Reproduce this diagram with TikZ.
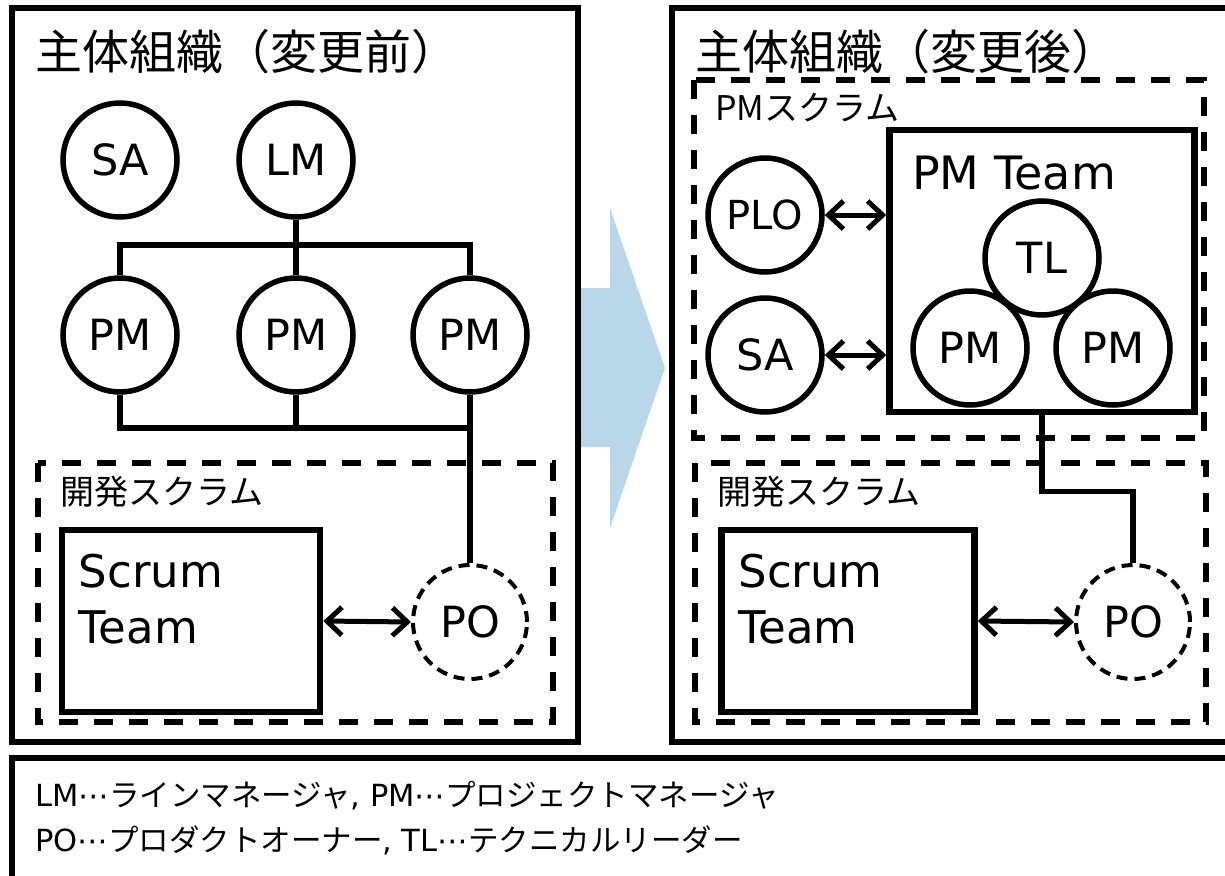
\documentclass[tikz,border=0pt]{standalone}
\usepackage{fontspec}
\setmainfont{DejaVu Sans}
\newfontfamily\jp{Noto Sans CJK JP}
\usetikzlibrary{positioning, arrows.meta, calc}

\definecolor{shiftblue}{RGB}{184,215,233}

\begin{document}
\begin{tikzpicture}[
    x=1pt, y=-1pt,
    font=\fontsize{43}{50}\selectfont,
    >={Straight Barb[length=15pt, width=28pt]},
    member/.style={
        circle, draw=black, line width=5.5pt, fill=white,
        minimum size=114pt, inner sep=0pt
    },
    proxy/.style={
        member, line width=4pt, dash pattern=on 11pt off 7pt
    },
    frame/.style={
        draw=black, line width=6.5pt
    },
    scrum/.style={
        draw=black, line width=6.5pt, dash pattern=on 19pt off 16pt
    },
    teambox/.style={
        rectangle, draw=black, line width=6.5pt, fill=white, inner sep=0pt
    },
    link/.style={line width=5.5pt},
    talk/.style={line width=5pt, <->},
    heading/.style={anchor=west, inner sep=0pt, font=\jp\fontsize{47}{52}\selectfont},
    tag/.style={anchor=west, inner sep=0pt, font=\jp\fontsize{34}{40}\selectfont},
    boxtext/.style={anchor=north west, inner sep=0pt, align=left,
        font=\fontsize{45}{56}\selectfont},
    key/.style={anchor=west, inner sep=0pt, font=\fontsize{30.5}{36}\selectfont}
]
\useasboundingbox (0,0) rectangle (1225,875);
\clip (0,0) rectangle (1225,875);

% ============ TRANSITION ARROW (behind the frames) ============
\fill[shiftblue] (570,288) -- (610,288) -- (610,208) -- (665,368)
    -- (610,528) -- (610,447) -- (570,447) -- cycle;

% ============ BEFORE ============
\draw[frame, fill=white] (12,8) rectangle (578,742);
\node[heading] (titleA) at (35,52) {主体組織（変更前）};

\node[member] (saA) at (120,160) {SA};
\node[member] (lm)  at (296,160) {LM};
\node[member] (pmA) at (120,335) {PM};
\node[member] (pmB) at (296,335) {PM};
\node[member] (pmC) at (470,335) {PM};

\coordinate (topbar) at (296,245);
\coordinate (botbar) at (296,428);

% line reporting
\draw[link] (lm.south) -- (pmB.north);
\draw[link] (pmA.north) -- (pmA.north |- topbar) -- (pmC.north |- topbar) -- (pmC.north);
\draw[link] (pmA.south) -- (pmA.south |- botbar) -- (pmC.south |- botbar);
\draw[link] (pmB.south) -- (botbar);

% development scrum
\draw[scrum] (38,463) rectangle (553,722);
\node[tag] (devA) at (60,492) {開発スクラム};
\node[teambox, minimum width=258pt, minimum height=182pt] (stA) at (191,621) {};
\node[boxtext] at ($(stA.north west)+(20,27)$) {Scrum\\Team};
\node[proxy] (poA) at (470,622) {PO};

\draw[link] (pmC.south) -- (poA.north);
\draw[talk] (stA.east) -- (poA.west);

% ============ AFTER ============
\draw[frame, fill=white] (672,8) rectangle (1260,742);
\node[heading] (titleB) at (695,52) {主体組織（変更後）};

% PM scrum
\draw[scrum] (694,80) rectangle (1204,438);
\node[tag] (pmscrum) at (715,108) {PMスクラム};

\node[teambox, minimum width=305pt, minimum height=282pt] (pmteam) at (1042,271) {};
\node[anchor=west, inner sep=0pt, font=\fontsize{46}{52}\selectfont] at (912,173) {PM Team};
\node[member] (tl)  at (1042,258) {TL};
\node[member] (pmD) at (970,348)  {PM};
\node[member] (pmE) at (1113,348) {PM};

\node[member, font=\fontsize{40}{48}\selectfont] (plo) at (765,215) {PLO};
\node[member] (saB) at (765,355) {SA};

\draw[talk] (plo.east) -- (plo.east -| pmteam.west);
\draw[talk] (saB.east) -- (saB.east -| pmteam.west);

% development scrum
\draw[scrum] (695,463) rectangle (1206,722);
\node[tag] (devB) at (717,492) {開発スクラム};
\node[teambox, minimum width=253pt, minimum height=182pt] (stB) at (848,621) {};
\node[boxtext] at ($(stB.north west)+(20,27)$) {Scrum\\Team};
\node[proxy] (poB) at (1133,622) {PO};

\draw[link] (pmteam.south) -- ++(0,76) -| (poB.north);
\draw[talk] (stB.east) -- (poB.west);

% ============ LEGEND ============
\draw[frame] (12,758) rectangle (1260,900);
\node[key] (keyA) at (35,796)
    {LM⋯{\jp ラインマネージャ}, PM⋯{\jp プロジェクトマネージャ}};
\node[key] (keyB) at (35,840)
    {PO⋯{\jp プロダクトオーナー}, TL⋯{\jp テクニカルリーダー}};

\end{tikzpicture}
\end{document}
